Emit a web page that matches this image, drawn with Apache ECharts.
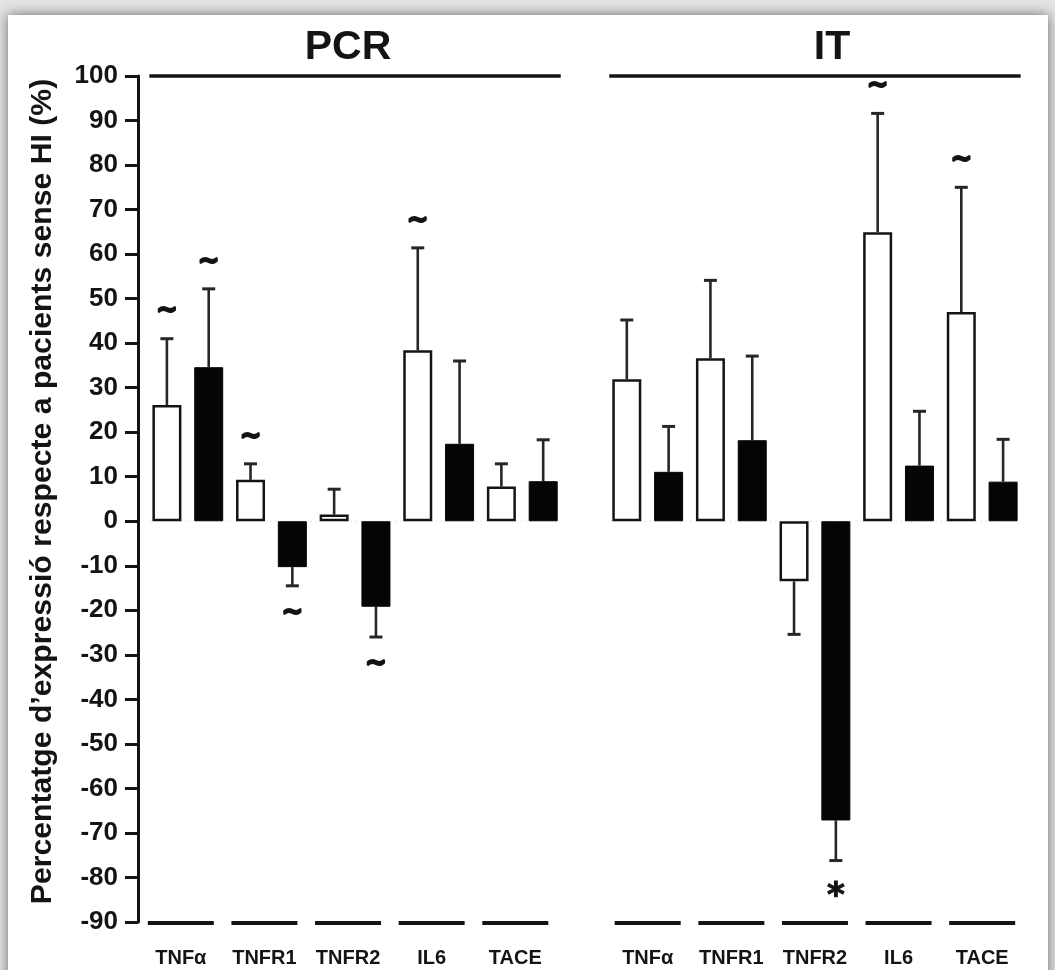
<!DOCTYPE html>
<html><head><meta charset="utf-8">
<script src="https://cdn.jsdelivr.net/npm/echarts@6/dist/echarts.min.js"></script>
<style>html,body{margin:0;padding:0;background:#e4e4e4;}#c{width:1055px;height:970px;}</style>
</head><body><div id="c"></div>
<script>
// ---- data ----
const groups = ['PCR', 'IT'];
const genes = ['TNFα', 'TNFR1', 'TNFR2', 'IL6', 'TACE'];
const pcrWhite    = [26.1, 9.3, 1.5, 38.4, 7.8];
const pcrWhiteErr = [14.9, 3.6, 5.7, 23.0, 5.1];
const pcrBlack    = [34.6, -10.3, -19.2, 17.4, 9.0];
const pcrBlackErr = [17.6, 4.2, 6.8, 18.6, 9.3];
const itWhite     = [31.9, 36.6, -13.5, 64.9, 47.0];
const itWhiteErr  = [13.3, 17.5, 11.9, 26.7, 28.0];
const itBlack     = [11.1, 18.2, -67.2, 12.5, 8.9];
const itBlackErr  = [10.2, 18.9, 9.0, 12.2, 9.5];
const pcrWhiteMark = ['~', '~', '', '~', ''];
const pcrBlackMark = ['~', '~', '~', '', ''];
const itWhiteMark  = ['', '', '', '~', '~'];
const itBlackMark  = ['', '', '*', '', ''];
const yMin = -90, yMax = 100, yStep = 10;
const yTitle = 'Percentatge d’expressió respecte a pacients sense HI (%)';

// ---- build ----
const table = [
  [[pcrWhite, pcrWhiteErr, pcrWhiteMark], [pcrBlack, pcrBlackErr, pcrBlackMark]],
  [[itWhite, itWhiteErr, itWhiteMark], [itBlack, itBlackErr, itBlackMark]]
];
const slotsPerGroup = genes.length * 2 + 1;
const whiteData = [], blackData = [], errData = [], markData = [], geneData = [];
groups.forEach((g, gi) => {
  genes.forEach((name, k) => {
    [0, 1].forEach(c => {
      const [vals, errs, marks] = table[gi][c];
      const x = gi * slotsPerGroup + 2 * k + c;
      (c === 0 ? whiteData : blackData).push([x, vals[k]]);
      errData.push([x, vals[k], errs[k]]);
      if (marks[k]) markData.push([x, vals[k], errs[k], marks[k]]);
    });
    geneData.push([gi * slotsPerGroup + 2 * k + 0.5, gi, k]);
  });
});
const groupData = groups.map((g, gi) => [gi * slotsPerGroup + (genes.length * 2 - 1) / 2, gi]);

const FONT = '"Liberation Sans", Arial, Helvetica, sans-serif';
const MARKFONT = '"DejaVu Sans", "Liberation Sans", sans-serif';
const INK = '#141414';

const chart = echarts.init(document.getElementById('c'));
chart.setOption({
  backgroundColor: '#e4e4e4',
  animation: false,
  graphic: [{
    type: 'rect', z: -100, silent: true,
    shape: { x: 8, y: 15, width: 1040, height: 990 },
    style: { fill: '#ffffff', shadowBlur: 12, shadowColor: 'rgba(0,0,0,0.55)' }
  }],
  title: [
    { text: groups[0], left: 343, top: 22, textAlign: 'center',
      textStyle: { fontSize: 41, fontWeight: 'bold', color: INK, fontFamily: FONT } },
    { text: groups[1], left: 827, top: 22, textAlign: 'center',
      textStyle: { fontSize: 41, fontWeight: 'bold', color: INK, fontFamily: FONT } }
  ],
  grid: { left: 146, right: 31, top: 76, bottom: 48, containLabel: false },
  xAxis: { type: 'value', min: -0.5, max: groups.length * slotsPerGroup - 1.5, show: false },
  yAxis: {
    type: 'value', min: yMin, max: yMax, interval: yStep, offset: 8,
    axisLine: { show: true, onZero: false, lineStyle: { color: INK, width: 3 } },
    axisTick: { show: true, length: 13, lineStyle: { color: INK, width: 3 } },
    axisLabel: { margin: 20, color: INK, fontSize: 26, fontWeight: 'bold', fontFamily: FONT },
    splitLine: { show: false },
    name: yTitle, nameLocation: 'middle', nameRotate: 90, nameGap: 80,
    nameTextStyle: { fontSize: 30.2, fontWeight: 'bold', color: INK, fontFamily: FONT,
      padding: [0, 0, 0, 15] }
  },
  series: [
    { type: 'custom', name: 'groups', z: 1, data: groupData,
      renderItem: (params, api) => {
        const cx = api.value(0);
        const a = api.coord([cx - 4.92, yMax]);
        const b = api.coord([cx + 4.92, yMax]);
        const z0 = api.coord([cx - 4.9, 0]);
        const z1 = api.coord([cx + 4.9, 0]);
        return { type: 'group', children: [
          { type: 'line', shape: { x1: a[0], y1: a[1], x2: b[0], y2: b[1] },
            style: { stroke: INK, lineWidth: 3.5 } },
          { type: 'line', shape: { x1: z0[0], y1: z0[1], x2: z1[0], y2: z1[1] },
            style: { stroke: '#e6e6e6', lineWidth: 1, lineDash: [2, 3] } }
        ] };
      } },
    { type: 'bar', name: 'blanc', data: whiteData, barWidth: 29, barGap: '-100%', z: 3,
      itemStyle: { color: '#ffffff', borderColor: INK, borderWidth: 2.5 } },
    { type: 'bar', name: 'negre', data: blackData, barWidth: 29, barGap: '-100%', z: 3,
      itemStyle: { color: '#050505', borderColor: '#050505', borderWidth: 1 } },
    { type: 'custom', name: 'err', z: 2, data: errData,
      renderItem: (params, api) => {
        const x = api.value(0), v = api.value(1), e = api.value(2);
        const s = v >= 0 ? 1 : -1;
        const p0 = api.coord([x, v]);
        const p1 = api.coord([x, v + s * e]);
        return { type: 'group', children: [
          { type: 'line', shape: { x1: p0[0], y1: p0[1], x2: p1[0], y2: p1[1] },
            style: { stroke: '#262626', lineWidth: 2.6 } },
          { type: 'line', shape: { x1: p1[0] - 6.5, y1: p1[1], x2: p1[0] + 6.5, y2: p1[1] },
            style: { stroke: '#262626', lineWidth: 3 } }
        ] };
      } },
    { type: 'custom', name: 'marks', z: 4, data: markData,
      renderItem: (params, api) => {
        const x = api.value(0), v = api.value(1), e = api.value(2);
        const m = markData[params.dataIndex][3];
        const s = v >= 0 ? 1 : -1;
        const p1 = api.coord([x, v + s * e]);
        const star = m === '*';
        return { type: 'text', x: p1[0], y: p1[1] - s * 27 + (star ? 10 : 0),
          style: { text: m, textAlign: 'center', textVerticalAlign: 'middle',
            font: 'bold ' + (star ? 34 : 26) + 'px ' + MARKFONT, fill: INK,
            stroke: INK, lineWidth: star ? 1 : 2 } };
      } },
    { type: 'custom', name: 'genes', z: 4, data: geneData,
      renderItem: (params, api) => {
        const cx = api.value(0), gi = api.value(1), k = api.value(2);
        const shift = gi === 0 ? -7 : 0;
        const p = api.coord([cx, yMin]);
        const x = p[0] + shift;
        return { type: 'group', children: [
          { type: 'line', shape: { x1: x - 33, y1: p[1] + 1, x2: x + 33, y2: p[1] + 1 },
            style: { stroke: INK, lineWidth: 4 } },
          { type: 'text', x: x, y: p[1] + 36,
            style: { text: genes[k], textAlign: 'center', textVerticalAlign: 'middle',
              font: 'bold 20px ' + FONT, fill: INK } }
        ] };
      } }
  ]
});
</script>
</body></html>
